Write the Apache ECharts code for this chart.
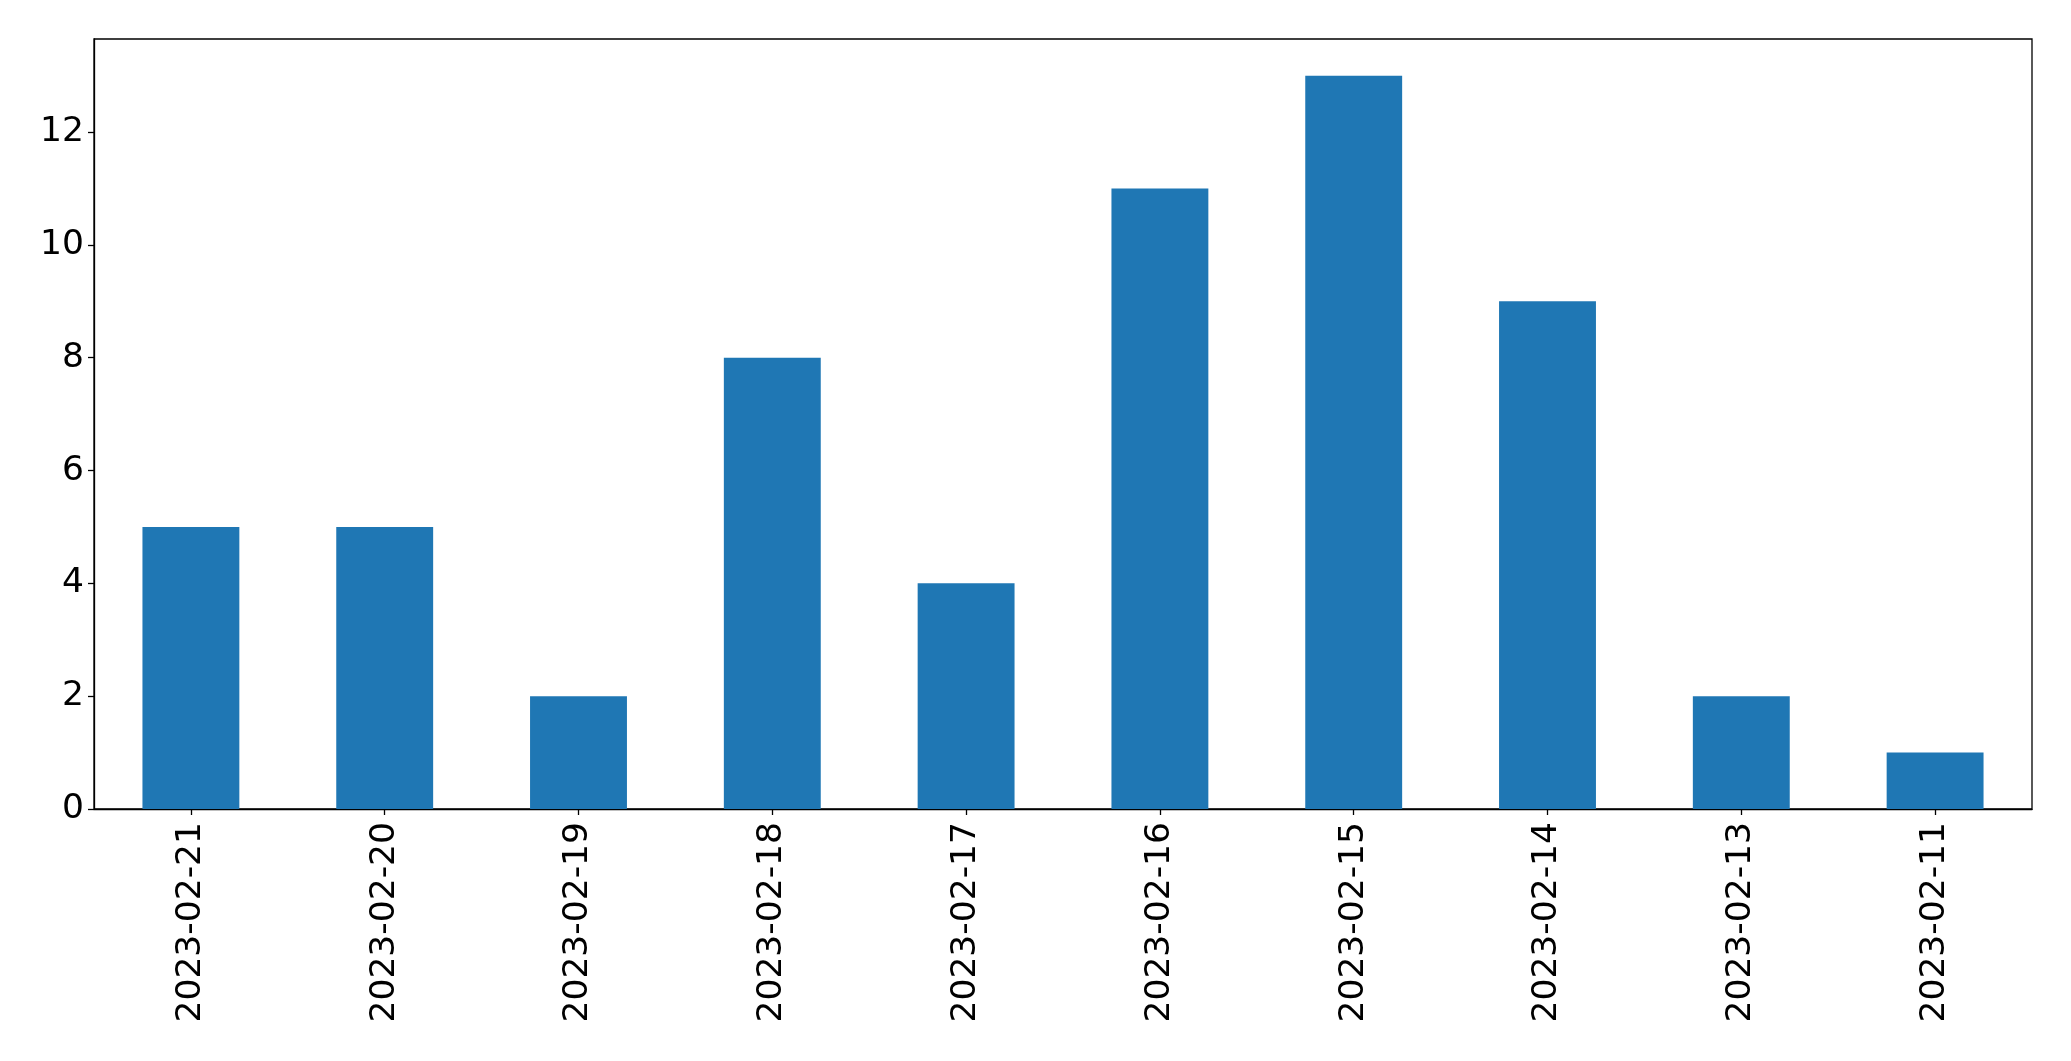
<!DOCTYPE html>
<html>
<head>
<meta charset="utf-8">
<script src="https://cdn.jsdelivr.net/npm/echarts@6/dist/echarts.min.js"></script>
<style>
html,body{margin:0;padding:0;background:#fff;}
#chart{width:2071px;height:1061px;}
</style>
</head>
<body>
<div id="chart"></div>
<script>
const categories = ['2023-02-21','2023-02-20','2023-02-19','2023-02-18','2023-02-17','2023-02-16','2023-02-15','2023-02-14','2023-02-13','2023-02-11'];
const values = [5,5,2,8,4,11,13,9,2,1];
const yTicks = [0,2,4,6,8,10,12];
const yMax = 13.65;

const chart = echarts.init(document.getElementById('chart'));
const font = 'DejaVu Sans';
chart.setOption({
  animation: false,
  backgroundColor: '#ffffff',
  grid: {left: 94, right: 39, top: 39, bottom: 252, show: true, borderColor: '#000', borderWidth: 1.3, containLabel: false},
  xAxis: {
    type: 'category',
    data: categories,
    boundaryGap: true,
    axisLine: {show: true, lineStyle: {color: '#000', width: 1.3}},
    axisTick: {show: true, alignWithLabel: true, length: 6, lineStyle: {color: '#000', width: 1.3}},
    axisLabel: {rotate: 90, fontFamily: font, fontSize: 34.5, color: '#000', margin: 13, interval: 0}
  },
  yAxis: {
    type: 'value',
    min: 0,
    max: yMax,
    interval: 2,
    splitLine: {show: false},
    axisLine: {show: true, lineStyle: {color: '#000', width: 1.3}},
    axisTick: {show: true, length: 6, customValues: yTicks, lineStyle: {color: '#000', width: 1.3}},
    axisLabel: {fontFamily: font, fontSize: 34.5, color: '#000', margin: 10, padding: [6, 0, 0, 0], customValues: yTicks}
  },
  series: [{
    type: 'bar',
    data: values,
    barWidth: '50%',
    itemStyle: {color: '#1f77b4'}
  }]
});
</script>
</body>
</html>
